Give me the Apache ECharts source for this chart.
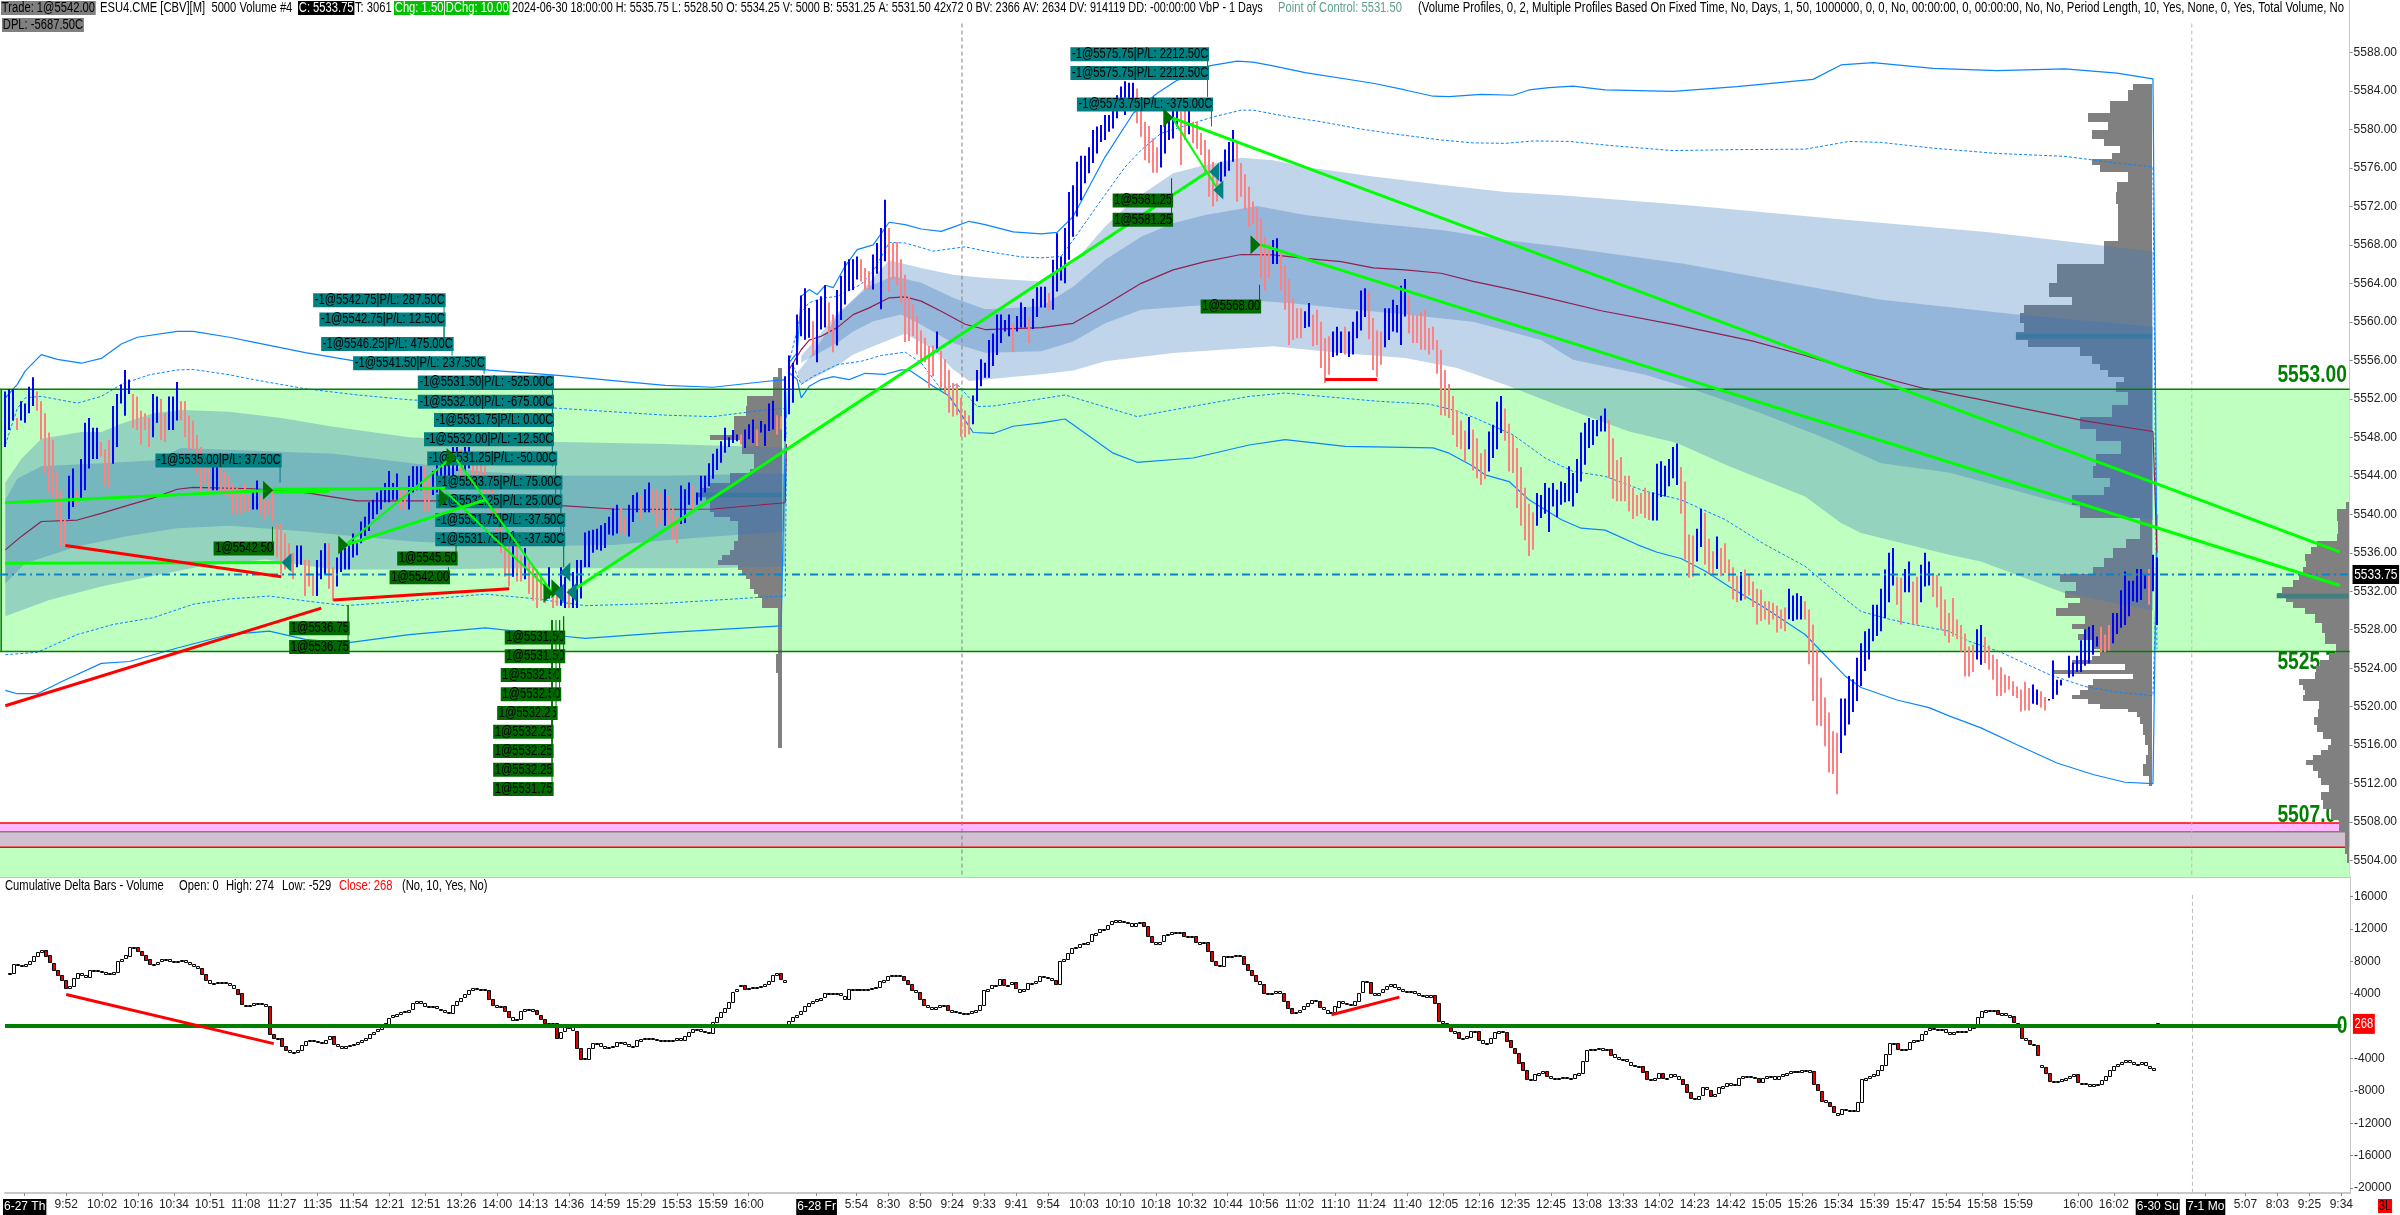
<!DOCTYPE html>
<html><head><meta charset="utf-8"><style>html,body{margin:0;padding:0;background:#fff}#c{width:2400px;height:1215px}</style>
<script src="https://cdn.jsdelivr.net/npm/echarts@6/dist/echarts.min.js"></script></head><body><div id="c"></div>
<script>
const barDir="BBBPBBBBPP"+"PPPPPPBBPB"+"BBBBPPPBBB"+"BBPPPPPBBP"+"PBBBPPPPPP"+"PPBBPPPPPP"+"PPBBPPPPPP"+"PPPBBPPPBB"+"BPPBBBBBBB"+"BBBBBBBBBP"+"PBBBBPPBBB"+"BBBBPBBPPP"+"PPPPPPPBPP"+"BPPPPPBPPB"+"BPBBBBBBBB"+"BBBBPPBBBP"+"BBPPPBPPPB"+"BBPBBBBBBB"+"BBBBPBBBPB"+"BBBPPBBBBB"+"BBPBBBPPBB"+"BBBBPPPBBB"+"BPPPPPPPPP"+"PPPBPPPPPP"+"PPBBBBBBBB"+"BBPBBBPBBB"+"BPBBBBBBBB"+"BBBBBBBBBB"+"BBBPPPPPPB"+"BBBBPPBPPP"+"PPPPBBBBPP"+"PPPPPPPBBP"+"PPPPPBBPPP"+"PPBBBPBBBB"+"BPPPPBBBBB"+"BPPPPPPPPP"+"PPPPPPBPPP"+"PBBBBPPPPP"+"PPPBBBBBBB"+"BBBBBBBBBB"+"BPPPPPPPPP"+"PPBBBBBBBP"+"PPPBBPPPBP"+"PPPPBPPPPP"+"PPPPPPBBBB"+"PPPPPPPPPB"+"BBBBBBBBBB"+"BBBPPBBPPB"+"BBPPPPPPPP"+"PPPBBPPPPP"+"PPPPPPPBBP"+"PBBBBBBBBB"+"BBBBPPPBBB"+"BBBBBBPBB";
const barHigh=[
5552.75,5553,5553,5550,5551.75,5551.5,5553.25,5554.25,5552.75,5551.75,
5550.5,5548.5,5547.75,5544.5,5542.5,5539.5,5544,5544.75,5542.5,5545.75,
5549.5,5550,5549,5549,5547.5,5546.75,5547.75,5551.25,5552.5,5553.5,
5555,5554,5552.5,5552.25,5550.75,5550.5,5550,5552.5,5552.25,5552,
5550.5,5552.25,5552.25,5553.75,5551.75,5551.75,5550.25,5549.75,5548.25,5547,
5545.5,5544.75,5545.5,5545.5,5544.75,5544.5,5544,5543.25,5542.75,5542.25,
5543.25,5542,5542.5,5543.5,5542,5541.5,5541.5,5542.25,5539,5539,
5538,5537,5536,5536.75,5536.75,5535.25,5535.25,5533.75,5535.25,5536.25,
5537,5537,5534.5,5535.5,5536.5,5536.5,5536.75,5538,5537,5539.25,
5539.75,5541.25,5541.5,5542.25,5542.5,5543.25,5544.5,5543.25,5544.25,5542.5,
5542.75,5544,5545,5545,5545,5545,5544,5544.5,5545.25,5546,
5546.25,5546.5,5547,5547,5546.75,5547,5547,5546.5,5546.25,5546,
5545,5544,5543,5541,5539.5,5537.5,5536.75,5538.25,5536.75,5535.75,
5536.5,5535,5534.5,5534.25,5533.75,5533,5534.5,5533,5532.5,5534.5,
5533.5,5532.25,5534,5535.25,5535.25,5538.1,5538.3,5538.4,5538.5,5538.85,
5539.1,5539.75,5540.6,5541,5540.75,5539.75,5541,5542,5542.25,5542,
5542.6,5543.3,5542.6,5542.6,5542.1,5542.6,5541.9,5540.75,5539.75,5543,
5542.6,5543.3,5543,5542.25,5544,5544,5545.3,5546.3,5546.8,5547.6,
5549,5548,5548.75,5548.3,5548.3,5548.8,5549.35,5549.85,5548.8,5549.7,
5549.35,5551.5,5551.8,5550.3,5550.2,5554.35,5556.5,5555.75,5560.75,5562.75,
5563.5,5561.45,5560.05,5562.3,5562.65,5563.8,5562,5560.75,5563.3,5564.8,
5566.3,5566.5,5566.5,5566.8,5566.5,5565.6,5565.25,5567,5568.2,5569.75,
5572.7,5569.75,5568.2,5568.3,5566.5,5564.9,5562.65,5561.8,5560.6,5559.1,
5558.35,5557.5,5557.55,5559,5557,5556.1,5555,5553.65,5553.6,5552.1,
5550.8,5550.3,5552.35,5555,5556.1,5555.75,5558.1,5558.8,5560.75,5560.75,
5560.2,5560.75,5559.8,5560.6,5562,5561.55,5560.5,5562.4,5563.6,5563.65,
5563.65,5563,5566.45,5569.2,5566.8,5569.75,5573.5,5574.2,5576.65,5577.25,
5577.25,5578.15,5579.95,5580.3,5580.45,5581.5,5581.5,5582.9,5583.55,5584.45,
5585,5584.85,5584.85,5584.25,5582.7,5580.8,5580.35,5579.05,5578.15,5580.45,
5581.65,5581.15,5582,5582.7,5581.85,5582,5582.35,5580.8,5580.8,5579.65,
5578.9,5577.9,5576.65,5574.9,5576.65,5577.9,5578.7,5579.95,5578.55,5576.5,
5575.35,5574.05,5572.5,5571.8,5570.75,5568.85,5568.15,5568.5,5568.7,5567.3,
5565.9,5564.45,5562.45,5561.4,5561.4,5561.1,5561.95,5560.75,5561.25,5560,
5558.3,5558.5,5559,5559.5,5559,5559.5,5559,5560,5561.1,5563.25,
5563.5,5563.15,5560.4,5559.1,5559,5561.4,5561.4,5562.3,5561.75,5563.75,
5564.45,5562.7,5560.75,5560.65,5561.1,5561.25,5559.35,5559.5,5558.1,5557.1,
5555,5553.55,5552.3,5550.85,5549.75,5548.7,5550.1,5548.8,5547.9,5546.35,
5546.75,5548.6,5549.3,5551.7,5552.3,5551,5549.4,5548.25,5546.9,5544.9,
5542.75,5541.1,5540.2,5542.2,5542,5543.25,5542.75,5543.25,5542.55,5543.4,
5543.25,5545,5544.3,5545.75,5548.5,5549.5,5550,5549.8,5549.8,5550.25,
5551,5549.8,5547.9,5545.65,5545.95,5544,5544,5542.75,5542,5542.2,
5542.75,5542.2,5542.25,5545.25,5545.5,5545.05,5545.75,5547,5547.35,5544.9,
5543.4,5537.9,5537.8,5538.5,5540.55,5540.15,5537.45,5536.15,5537.7,5536.5,
5537,5535.3,5534.5,5533.6,5534,5534.25,5533.8,5533,5532.25,5532.15,
5530.95,5530.95,5530.8,5530.5,5530.1,5530.3,5532.25,5531.55,5531.8,5531.5,
5530.95,5530.1,5528.55,5525.95,5523,5520.95,5519.4,5517.45,5517.3,5520.85,
5520.85,5523.2,5522.85,5525.1,5526.6,5527.85,5528.1,5530.6,5530.6,5532.25,
5534.25,5536,5536.5,5533.5,5533.4,5534.3,5535.1,5533,5533.5,5534.75,
5536,5535.1,5533.9,5533.7,5532.5,5531.15,5529.75,5531.3,5529.05,5528.5,
5527.6,5526.25,5526.45,5528.05,5528.5,5527.25,5526.35,5525.4,5524.95,5524.1,
5523.35,5523.2,5522.65,5522.1,5521.8,5522.6,5521.95,5522.3,5521.8,5521.6,
5521,5520.8,5524.8,5522.8,5522.8,5522.8,5525.3,5524.6,5525.3,5526.9,
5528.05,5528.3,5528.5,5527.3,5528.3,5527.5,5528.5,5529.75,5529.75,5532.1,
5534.05,5533.1,5533.1,5534.3,5534.3,5533.8,5534.3,5535.8,5535.5];
const barLow=[
5547,5548.75,5549.75,5548.75,5549.75,5549.5,5550.5,5551.25,5550.75,5547.75,
5544.25,5542.25,5541.75,5539.5,5536.5,5536.75,5539.5,5540.75,5541,5541.5,
5542.5,5544.75,5545.75,5545.75,5546,5543,5542.75,5545.25,5547,5551.5,
5550.25,5552.5,5549,5548.75,5547.25,5548.75,5547,5548,5549.5,5547.75,
5547.5,5548.75,5548.75,5549.75,5549.75,5548,5546.75,5546.75,5544.25,5542,
5543.25,5542,5542.5,5542.5,5542.25,5542,5541.75,5540,5540,5540,
5540.25,5540.25,5540.5,5540.5,5540,5539.5,5540,5539.25,5535.5,5533.75,
5534.25,5534.25,5533.25,5534.5,5534.75,5531.5,5532.5,5531.5,5531.5,5533.25,
5533.75,5532.25,5531,5532.5,5534,5534.25,5534.25,5535.5,5535.75,5537,
5537.75,5538.25,5539.5,5540,5540.5,5541.25,5541.25,5541.5,5541.5,5540.5,
5540.5,5540.5,5542.25,5542.5,5542.5,5540.25,5540.25,5542,5542.25,5543,
5543.5,5543.75,5544,5544.5,5544,5544.5,5544.75,5544,5543,5542.5,
5541.5,5540.5,5539.5,5538,5536,5533.5,5532.5,5533.5,5533,5533,
5533.25,5531.75,5531,5530.25,5531,5530.75,5531.25,5530.25,5530.5,5530.5,
5530.25,5530.25,5530.25,5530.25,5531.25,5534.5,5534.5,5536,5536.3,5536.2,
5536.5,5537.9,5537.8,5538,5538,5537.9,5537.7,5539.2,5540.2,5539.5,
5540.2,5540.2,5540,5538.6,5539,5538.8,5538.6,5537.4,5537,5539,
5539.1,5541,5540.5,5541,5541.4,5542.25,5542.9,5543.7,5544.6,5545.35,
5546.4,5547,5547.4,5547.6,5547.25,5546.9,5547.8,5547.4,5547.1,5548.5,
5547.1,5548.65,5548.8,5548.3,5548.8,5547.6,5550.4,5551.6,5555.55,5558.5,
5558.15,5558.35,5556.5,5555.8,5559.2,5559.4,5558.85,5556.85,5557.55,5560.2,
5561.8,5563.2,5563.3,5564.4,5564.2,5563.3,5563.3,5563.35,5565,5561.3,
5566.3,5563.1,5564.4,5563.8,5562,5557.9,5558,5558.5,5556.6,5555.9,
5555.8,5553.15,5554.35,5556.85,5553.15,5552.6,5550.55,5550.15,5550.3,5548.05,
5548,5548.3,5549.35,5551.75,5553.3,5554.2,5554.2,5555.4,5556.55,5557.8,
5559,5558.5,5556.85,5559,5559.4,5559.4,5557.8,5559.25,5560.5,5561.5,
5561.5,5561.2,5561.25,5563.15,5564.3,5564,5566.45,5568.85,5570.95,5572.65,
5574.4,5575.45,5576.5,5577.5,5578.7,5578.9,5579.75,5580.1,5581.15,5582.5,
5581.5,5582.5,5583,5580.65,5579.25,5576.8,5576.5,5575.5,5575.5,5576.05,
5577.5,5578.9,5579.05,5580.3,5576.3,5578.9,5579.5,5578.55,5578,5577.35,
5575.25,5573,5572,5572.5,5574.55,5575.1,5575.7,5576.65,5572.5,5573,
5571.65,5569.85,5570.25,5568.5,5564.5,5563.25,5564.5,5566,5566,5563.25,
5561.25,5557.6,5558.1,5558.3,5558.3,5559.35,5559.5,5557.45,5557.6,5555.2,
5553.65,5554.5,5556.35,5556.5,5556.75,5556.6,5556.35,5556.6,5558.3,5559.1,
5560.5,5558.2,5555,5554.3,5555.55,5557.35,5558.1,5559,5558.9,5557.6,
5560.55,5558.8,5557.8,5557.8,5557.1,5557.1,5556.6,5557.1,5554.6,5550.3,
5550.25,5550,5548.25,5547,5546.75,5545.5,5546.75,5544.55,5543.75,5543.05,
5543.65,5544.45,5545.85,5546.75,5548.45,5547.65,5544.45,5544.3,5540.65,5538.8,
5537.3,5535.65,5536.3,5538.8,5539.6,5540.05,5538.15,5540.8,5539.7,5541,
5541.25,5541.35,5540.8,5542.2,5543.4,5545.15,5546.9,5547.2,5548.1,5548.6,
5548.6,5543.75,5541.6,5541.35,5541.35,5541.35,5540.3,5539.5,5539.8,5540.05,
5539.6,5539.4,5539.35,5539.35,5541.8,5541.85,5542.9,5543.75,5543.05,5540.05,
5535.3,5533.4,5533.5,5535.1,5536.6,5534.75,5533.9,5533.55,5534.3,5533.55,
5533.9,5533,5531.15,5530.85,5531.05,5531.15,5531.55,5530.35,5528.55,5528.9,
5529.05,5528.55,5529.05,5527.7,5528.1,5527.85,5529.1,5528.9,5529.05,5529.05,
5529.05,5524.4,5520.6,5518.05,5518,5515.9,5513.15,5513,5510.9,5515.2,
5517,5518.15,5519.45,5520.6,5522.15,5523.7,5524.9,5526.8,5527.35,5527.85,
5529.2,5530.85,5532.6,5530.6,5528.55,5531.9,5531.9,5528.55,5528.55,5530.85,
5532.5,5532.6,5531.4,5530.3,5528,5527.35,5526.65,5527.3,5527,5525.75,
5523.15,5523.15,5523.6,5524.9,5524.35,5524.55,5523.85,5522.8,5521.1,5521.1,
5521.45,5521.8,5521.1,5520.9,5519.5,5519.6,5519.6,5520.3,5520.2,5519.9,
5519.6,5520.65,5520.8,5521.25,5522.2,5522.8,5523,5523.15,5523.6,5523.6,
5524.25,5524.5,5525.4,5526.25,5525.65,5525.65,5525.85,5526.6,5527.55,5528.2,
5528.5,5529.4,5530.95,5530.85,5531.1,5532.25,5530.6,5532,5528.5];
const deltaClose=[
6400,7500,7400,7300,7500,7900,8500,9000,9300,8600,7700,6800,6200,5600,4600,4800,5800,6400,6200,5900,
6800,6800,6700,6600,6400,6400,6600,7900,8200,8600,9700,9700,9200,8700,8100,7500,7500,7800,8100,8100,
7900,7800,7900,8000,7800,7500,7300,7000,6300,5600,5200,5200,5300,5300,5200,4900,4500,3900,2500,2500,
2500,2700,2700,2600,2300,-1100,-1600,-1600,-2600,-3100,-3300,-3300,-3100,-2500,-2000,-1900,-2000,-2100,-2200,-1800,
-1400,-2400,-2600,-2800,-2600,-2500,-2400,-2100,-1900,-1600,-1100,-800,-500,-100,200,900,1200,1400,1600,1700,
1900,2700,3000,2700,2300,2300,2300,2000,1900,1600,1500,2500,3000,3400,3800,4300,4600,4500,4400,4300,
3200,2500,2300,2300,1700,1000,600,700,1700,2000,2000,1800,1300,800,300,300,200,-1600,-800,-300,
-300,-700,-2800,-4100,-4100,-2800,-2200,-2200,-2600,-2800,-2700,-2600,-2100,-2100,-2400,-2700,-2600,-1900,-1700,-1600,
-1600,-1700,-1800,-1800,-1900,-1900,-1800,-1600,-1900,-1400,-900,-500,-500,-700,-800,-900,400,1000,1600,2100,
2900,4100,4400,5000,4500,4600,4700,4700,4800,5100,5500,6200,6400,5600,5300,500,1000,1300,1700,2300,
2700,3000,3200,3400,3900,4000,4000,3900,3600,3200,4400,4400,4500,4500,4500,4500,4600,4700,5400,5600,
6100,6200,6200,6100,5600,5100,4300,4100,3200,2500,2200,2000,2200,2500,2500,1900,1700,1600,1500,1500,
1400,1700,1900,2500,4300,4500,4900,4900,5700,4900,5000,5300,4500,4100,4400,5200,5200,5400,6000,5900,
5800,5600,5100,7900,8100,8900,9500,9600,10000,10100,10300,11200,11400,11800,11900,12400,12800,13000,12800,12700,
12600,12200,12600,12700,12200,11000,10300,10100,10300,11100,11200,11500,11400,11500,11000,10900,11000,10300,10100,10200,
9100,7900,7400,7300,8500,8400,8500,8600,8500,7500,6800,6200,5500,5100,4000,3900,4000,4200,4000,3000,
2100,1500,1600,1900,2300,2700,3100,3000,2200,1900,1500,1600,2300,3000,2700,2600,2500,3000,4000,5400,
5300,4000,3700,4000,4400,4800,5100,4700,4500,4200,4100,4200,3900,3600,3700,3400,3700,2700,500,300,
-100,-700,-900,-1600,-1600,-1400,-700,-700,-1800,-2200,-2200,-1600,-900,-700,-800,-1900,-2800,-3400,-4600,-5600,
-6700,-6800,-6100,-5900,-5700,-6300,-6500,-6600,-6500,-6400,-6500,-6600,-6100,-5900,-4400,-3100,-3000,-2900,-2800,-3000,
-2900,-3600,-4000,-4200,-4200,-4500,-4900,-5000,-5000,-5700,-6700,-6700,-6500,-5900,-6500,-6500,-6100,-6300,-6700,-7300,
-8300,-9000,-9100,-8700,-7700,-8000,-8700,-8500,-7700,-7500,-7100,-7300,-7400,-6500,-6300,-6300,-6400,-6500,-7000,-6500,
-6300,-6300,-6700,-6300,-6100,-5900,-5700,-5700,-5700,-5500,-5500,-5700,-7300,-8100,-9300,-9500,-10000,-10800,-11000,-10400,
-10500,-10500,-10600,-9500,-6700,-6500,-6300,-6100,-5500,-4900,-3600,-2200,-2200,-3000,-3100,-3000,-2100,-1900,-1800,-1100,
-700,-400,-500,-500,-500,-900,-1100,-800,-700,-700,-700,-300,-100,1000,1700,1900,1900,1800,1300,1500,
1300,1100,300,100,-1600,-1900,-2400,-2500,-3700,-5200,-5900,-6900,-6900,-6900,-6700,-6500,-6300,-6100,-7100,-7200,
-7300,-7500,-7300,-7300,-6800,-6300,-5500,-5000,-4800,-4600,-4300,-4600,-4900,-4800,-4600,-5000,-5300,-5500,268];
// bars whose open does not follow the previous close: [bar, open]
const deltaGapOpens=[[183,4900],[195,100],[509,-4900],[538,-200]];

// VWAP and deviation lines: [bar index] and [price]
const outerUpIdx1=[0,4,9,19,24,29,37,44,56,69,82,101,120,139,165,190,195];
const outerUp1=[5543.3,5545.75,5547.85,5548.55,5548.55,5549.4,5550.5,5550.85,5550.65,5550,5549.1,5548,5547.6,5547.5,5547.3,5547,5546.9];
const innerUpIdx1=[0,3,9,24,37,44,82,120,139,152,165,190,195];
const innerUp1=[5541.5,5543.7,5545,5545.3,5545.6,5546.9,5546.3,5544.4,5544,5544,5544,5544.2,5544.2];
const innerLowIdx1=[0,5,18,30,43,56,75,88,101,126,152,165,177,195];
const innerLow1=[5532.8,5534.9,5536.65,5537.7,5538.55,5538.8,5538.2,5537.7,5537.2,5536.65,5536.8,5537.3,5537.7,5538.2];
const outerLowIdx1=[0,11,24,36,49,65,82,107,124,177,195];
const outerLow1=[5529.4,5531.1,5532.5,5533.5,5534.6,5535.3,5534.25,5534.25,5534.4,5534.4,5534.6];
const vwapIdx1=[0,4,9,18,24,30,37,43,47,62,75,88,101,126,139,152,165,177,195,195.3];
const vwap1=[5536.3,5537.7,5539.25,5539.4,5540.1,5540.85,5541.7,5542.6,5542.8,5542.65,5542.25,5541.4,5541.4,5541.4,5540.9,5540.55,5540.5,5540.55,5541.2,5547.3];
const solidUpIdx1=[0,3,5,9,13,19,24,29,33,43,47,56,62,75,88,120,139,152,165,177,190,195,195.3];
const solidUp1=[5552.1,5553.5,5554.9,5556.6,5556.1,5555.7,5556.2,5557.7,5558.4,5559,5559,5558.4,5557.9,5556.8,5555.9,5555,5554.4,5553.9,5553.4,5553.2,5553.8,5554,5550];
const dotUpIdx1=[0,3,5,9,18,24,29,36,43,47,56,62,75,88,101,139,152,165,177,190,195,195.3];
const dotUp1=[5547.2,5551,5552.1,5552.25,5551.55,5552.25,5553.5,5554.5,5555,5555.05,5554.5,5554,5553.05,5552.4,5551.9,5551,5550.65,5550.3,5550.15,5550.85,5551,5548];
const dotLowIdx1=[0,8,18,27,37,47,56,66,75,85,101,120,133,145,165,190,195,195.3];
const dotLow1=[5525.4,5525.65,5527.5,5528.55,5529.25,5530.65,5531.2,5531.5,5531,5530.5,5531,5531.7,5531.2,5530.5,5530.75,5531.4,5531.5,5546];
const solidLowIdx1=[0,3,8,14,24,31,43,56,66,75,85,101,120,139,145,165,194,195];
const solidLow1=[5521.7,5521.35,5521.35,5522.6,5524.5,5524.7,5526.1,5527.5,5527.85,5527,5526.6,5527.5,5528.2,5527.35,5527.1,5527.7,5528.4,5548];

const outerUpIdx2=[198,202,208,212,216,221,229,237,245,259,267,275,282,292,299,309,317,325,342,359,375,389,420,458,496,537];
const outerUp2=[5554.7,5556.8,5560.6,5562.3,5564.05,5566.4,5565.6,5564.9,5564.55,5564.2,5566.1,5569.9,5572.65,5575.45,5576.2,5577.05,5576.8,5576.1,5575.1,5574.25,5573.5,5573.15,5572.15,5570.7,5569.3,5567.3];
const innerUpIdx2=[199,204,208,212,216,222,229,237,245,259,267,275,284,292,300,313,325,342,359,375,389,420,469,503,537];
const innerUp2=[5556.45,5558.85,5560.9,5562.3,5563.7,5564.75,5564.05,5562.5,5561.3,5561.6,5563.65,5566.45,5568.85,5570.25,5571.1,5572.05,5571.1,5570.25,5569.55,5568.5,5567.8,5566,5562.3,5560.75,5559.5];
const innerLowIdx2=[199,208,212,217,224,229,237,245,259,267,275,284,300,309,321,334,350,367,384,392,410,422,439,456,469,486,511,528,537];
const innerLow2=[5555.75,5557.8,5559,5560.05,5560.75,5559.7,5557.8,5556.8,5556.95,5557.95,5559.85,5561.25,5561.75,5562.3,5561.95,5561.4,5560.75,5560,5558.1,5556.05,5554.5,5553,5550.5,5547.75,5545.3,5544.35,5541.5,5539.8,5539.4];
const outerLowIdx2=[199,208,212,217,225,232,237,241,259,267,275,292,317,334,350,363,375,389,406,418,431,450,459,464,486,494,503,515,537];
const outerLow2=[5553.5,5555.4,5556.6,5557.45,5558.8,5557.15,5555.05,5553.85,5554.55,5554.95,5555.9,5556.75,5557.45,5556.75,5556.25,5555.2,5553.45,5551.2,5548.6,5547.4,5545,5541.85,5539.1,5538.05,5535.8,5535.1,5533.7,5531.8,5530];
const vwapIdx2=[196,199,201,204,208,212,216,221,225,229,234,240,245,259,267,275,284,292,300,309,317,325,334,342,350,359,367,375,384,399,418,437,450,462,480,493,505,520,537,538];
const vwap2=[5555.05,5557.1,5558.1,5558.5,5559.4,5560.75,5561.45,5562.5,5562.6,5562.15,5561.1,5559.75,5559.2,5559.4,5559.85,5561.75,5564,5565.4,5566.25,5567,5566.95,5566.6,5566.25,5565.6,5565.4,5565.05,5564.2,5563.5,5562.65,5561.15,5559.65,5558,5556.5,5555,5553.05,5552,5550.95,5549.7,5548.6,5536];
const solidUpIdx2=[196,198,199,201,203,205,207,210,213,217,221,225,229,234,237,241,245,252,259,263,267,275,282,288,293,301,308,312,317,325,342,350,357,361,369,377,381,386,392,400,417,433,452,459,467,482,498,515,528,537,538];
const solidUp2=[5555.75,5556.8,5562.65,5563.35,5562.85,5563.8,5563.55,5565.8,5567.5,5568,5570.35,5570.1,5569.65,5569.4,5569.85,5570.45,5570.1,5569.35,5569.15,5569.3,5570.95,5577.15,5581.65,5583.75,5585.1,5586.6,5587.1,5587,5586.6,5585.9,5584.8,5584.1,5583.45,5583.4,5583.65,5583.55,5584.1,5584.35,5584.5,5584.1,5583.95,5584.45,5585.2,5586.7,5586.95,5586.35,5586.1,5586.3,5585.85,5585.25,5534];
const dotUpIdx2=[196,199,201,205,208,214,217,221,225,232,240,245,254,259,264,267,274,280,284,289,302,309,312,321,329,338,346,359,367,375,382,391,402,417,433,450,461,469,482,498,515,528,537,538];
const dotUp2=[5555.75,5560.95,5562,5562.5,5562.65,5563.9,5565.25,5568.25,5568.2,5567.35,5567.8,5567.35,5566.75,5566.65,5566.8,5568.5,5572.65,5576.1,5577.85,5579.6,5581.3,5582,5582,5581.3,5580.8,5580.1,5579.6,5578.9,5578.6,5578.55,5578.8,5578.75,5578.3,5577.8,5577.9,5577.95,5578.75,5578.65,5578.05,5577.5,5577.2,5576.5,5576.1,5526];
const dotLowIdx2=[197,199,202,208,214,219,225,229,234,238,243,247,259,265,283,294,311,320,343,356,362,367,377,385,392,400,410,419,430,440,450,456,464,471,477,486,491,499,511,520,528,537,538];
const dotLow2=[5555.4,5553.5,5554.35,5555.55,5555.9,5556.5,5556.85,5555.75,5553,5553.5,5551.2,5551.25,5552,5552.4,5550.15,5551,5552.25,5552.6,5551.75,5551.45,5550.85,5550.1,5548.25,5545.85,5544.45,5543.95,5542.4,5541.5,5539.45,5536.85,5534.6,5532.5,5529.9,5529.1,5528.55,5527.85,5526.8,5525.65,5523.35,5522.1,5521.5,5521.15,5535];
const solidLowIdx2=[196,198,199,201,204,207,211,215,220,224,226,232,236,242,247,252,259,265,277,283,297,311,320,335,357,361,367,370,376,381,389,394,400,408,413,419,425,431,440,450,460,464,473,481,486,494,503,513,522,530,537,538];
const solidLow2=[5554.7,5554,5552.1,5553.3,5554,5554.3,5554,5554.65,5554.55,5555,5555,5553.3,5552.3,5548.5,5548.4,5549.15,5549.5,5549.9,5546.35,5545.4,5545.85,5547.2,5547.75,5547.05,5546.9,5546.35,5545,5544.1,5543.4,5541.5,5539.45,5538.55,5538.35,5536.85,5536.05,5535.4,5534.1,5532.5,5530.25,5527.5,5523.2,5522,5520.7,5519.9,5519.05,5517.8,5516.05,5514.15,5512.95,5512.15,5512,5540];

// volume-at-price profiles [price, volume]
const profile1=[[5555,1],[5554.5,1],[5554,2.3],[5553.5,2.3],[5553,2.3],[5552.5,2.3],[5552,8.7],[5551.5,8.7],[5551,9],[5550.5,9],[5550,12],[5549.5,12],[5549,12],[5548.5,12],[5548,18],[5547.5,10],[5547,10],[5546.5,10],[5546,7],[5545.5,7],[5545,7],[5544.5,8],[5544,13],[5543.5,13],[5543,18],[5542.5,20],[5542,21],[5541.5,19],[5541,18],[5540.5,18],[5540,17],[5539.5,13],[5539,11],[5538.5,11],[5538,11],[5537.5,11],[5537,12],[5536.5,12],[5536,13],[5535.5,15],[5535,16],[5534.5,11],[5534,10],[5533.5,9],[5533,8],[5532.5,8],[5532,7],[5531.5,6],[5531,5],[5530.5,5],[5530,1],[5528,1],[5526,1],[5525,1.6],[5524,1.6],[5523,1],[5520,1],[5516,1]];
const profile2=[[5584.5,4.8],[5583.6,6],[5582.3,10.5],[5581.1,16],[5580.4,11],[5579.4,15],[5578.6,12],[5578,8],[5577.2,10],[5576.6,15],[5576.1,13],[5575,6],[5574,8.6],[5573,9],[5571.5,8.4],[5569.6,8.4],[5567.2,12],[5564.8,23.7],[5563.25,25.6],[5562,20],[5561.4,32],[5560.5,33],[5559.3,32],[5558.5,34],[5557.8,31],[5556.9,18],[5556,15],[5555.3,13],[5554.6,11],[5554,7],[5553.4,9],[5552.1,6],[5550.7,10],[5549.5,18],[5548.3,14],[5546.9,7.6],[5545.6,14],[5544.4,14.7],[5543.2,10.5],[5542.5,12],[5541.6,20],[5540.3,18],[5539,3],[5538,3],[5536.9,6.4],[5536,9.6],[5535,12],[5534.1,14.7],[5533.5,23],[5532.5,19],[5531.5,21.7],[5531,18],[5530.6,21],[5530,24],[5528.8,16.6],[5528.3,20],[5527.8,16.6],[5527.3,18.5],[5526.5,14.6],[5525.5,13],[5525,15],[5524.8,20],[5524.1,6.8],[5523.6,25],[5523.1,4.6],[5522.6,14.6],[5522,16],[5521.5,18],[5521,20],[5520.6,16],[5520,13],[5519.6,6],[5519.2,3.75],[5518.7,3],[5517.6,2.3],[5516.5,1.7],[5515.5,1],[5514.5,1.5],[5513.5,2.3],[5512,.8]];
const profile3=[[5541,.75],[5540,3],[5538.5,2.7],[5537.5,3],[5537,8],[5536.2,9.5],[5535.5,11],[5534.8,10.6],[5534.2,11.4],[5533.5,12.4],[5532.8,14],[5532.1,16.6],[5531.5,18],[5531.1,15.6],[5530.6,14],[5530,11],[5529.2,8.5],[5528.3,6.6],[5527,6],[5526,3.2],[5525.2,5],[5524.5,7.2],[5524,8.25],[5523.2,8.5],[5522.6,12.4],[5522,11.4],[5521.5,11],[5520.9,11.4],[5520.2,7.4],[5519.4,7.7],[5518.5,8.7],[5517.7,8],[5517,6.4],[5516.2,4.3],[5515.8,5.2],[5515.2,6.8],[5514.7,8.9],[5514.2,10.75],[5513.7,8.9],[5513,7.7],[5512.2,6.8],[5511.5,5],[5510.7,6.8],[5510,6.4],[5508.8,4.5],[5507.6,2.5],[5506.5,1],[5505.3,.9],[5504,.5]];
const pocRows=[[5542,21],[5558.5,34],[5531.5,18]];

// zones [low, high, fill]
const zones=[[5525.75,5553,'#BFFFBF'],[5502.3,5505.4,'#BFFFBF'],[5507,5507.9,'#FFB8FF'],[5505.4,5507,'#D0C0D0']];
const zoneTexts=[['5553.00',5554.4],['5525.75',5524.6],['5507.00',5508.7]];
const hLines=[[5507.9,'#FF0000'],[5505.4,'#FF0000'],[5507,'#808080']];
const lastPrice=5533.75;

// trade connectors [i1,p1,i2,p2,width]
const greenLines=[[0,5541.2,67,5542.5,3],[67,5542.6,110,5542.7,3],[67,5542.3,81,5542.4,3],[0,5534.9,69,5535,3],[85,5536.8,111.6,5545.9,2],[85,5536.8,120,5541.5,3],[112.8,5545.7,137,5531.7,2],[110,5542.4,137,5531.7,2],[142.5,5532.25,300.7,5575.6,3],[291.8,5581.2,303.3,5573.7,2],[291.8,5581.2,583.7,5536.1,3],[314,5568,583.7,5532.6,3]];
const redLines=[[15,5536.75,69,5533.5,3],[82,5531.1,126,5532.25,3],[0,5520.1,79,5530.25,3],[330,5554,343,5554,3]];
const deltaRedLines=[[14,3900,66,-2170,3],[331,1400,348,3570,3]];
const arrowsRight=[[65.7,5542.5],[84.5,5536.8],[109.7,5541.7],[111.6,5545.9],[135.8,5531.8],[137.8,5532.25],[290.8,5581.2],[312.6,5568]];
const arrowsLeft=[[70.3,5535],[140,5534],[138.4,5531.8],[141.6,5531.9],[302.3,5575.6],[303.3,5573.7]];

// trade labels [text, bar at right edge, price, stem end price]
const tealLabels=[
['-1@5542.75|P/L: 287.50C',110.1,5562.25,5558.4],['-1@5542.75|P/L: 12.50C',110.1,5560.25,5558.4],['-1@5546.25|P/L: 475.00C',112.1,5557.7,5556.5],['-1@5541.50|P/L: 237.50C',120.1,5555.7,5554.6],
['-1@5531.50|P/L: -525.00C',137.2,5553.7,5545],['-1@5532.00|P/L: -675.00C',137.2,5551.7,5545],['-1@5531.75|P/L: 0.00C',137.2,5549.8,5545],['-1@5532.00|P/L: -12.50C',137.2,5547.8,5545],['-1@5531.25|P/L: -50.00C',138,5545.8,5541],
['-1@5533.75|P/L: 75.00C',139.3,5543.3,5538],['-1@5532.25|P/L: 25.00C',139.3,5541.35,5537.5],['-1@5531.75|P/L: -37.50C',140,5539.4,5534.5],['-1@5531.75|P/L: -37.50C',140,5537.4,5534.5],['-1@5535.00|P/L: 37.50C',69.1,5545.6,5543.3],
['-1@5575.75|P/L: 2212.50C',301,5587.8,5583.4],['-1@5575.75|P/L: 2212.50C',301,5585.85,5583.4],['-1@5573.75|P/L: -375.00C',302,5582.6,5580.3]];
const greenLabels=[
['1@5542.50',67.2,5536.45,5538.7],['1@5545.50',113.1,5535.4,5536.8],['1@5542.00',111.2,5533.45,5534.5],['1@5536.75',86.1,5528.15,5530.5],['1@5536.75',86.1,5526.2,5530.5],
['1@5531.50',140,5527.2,5529.4],['1@5531.50',140,5525.25,5529.4],['1@5532.50',139,5523.3,5529],['1@5532.50',139,5521.3,5529],['1@5532.25',138.1,5519.35,5529],['1@5532.25',137.1,5517.4,5529],['1@5532.25',137.1,5515.4,5529],['1@5532.25',137.1,5513.45,5529],['1@5531.75',137.1,5511.45,5529],
['1@5581.25',292,5572.6,5574.9],['1@5581.25',292,5570.6,5574.9],['1@5568.00',314,5561.6,5563.85]];

const priceTicks=[5504,5508,5512,5516,5520,5524,5528,5532,5536,5540,5544,5548,5552,5556,5560,5564,5568,5572,5576,5580,5584,5588];
const deltaTicks=[16000,12000,8000,4000,-4000,-8000,-12000,-16000,-20000];
const timeTickBars=[3.6,14,23,32,41,50,59,68,77,86,95,104,113,122,131,140,149,158,167,176,185,202,212,220,228,236,244,252,260,269,278,287,296,305,314,323,332,341,350,359,368,377,386,395,404,413,422,431,440,449,458,467,476,485,494,503,518,527,538,550,560,568,576,584];
const timeTickLabels=['6-27 Th','9:52','10:02','10:16','10:34','10:51','11:08','11:27','11:35','11:54','12:21','12:51','13:26','14:00','14:13','14:36','14:59','15:29','15:53','15:59','16:00','6-28 Fr','5:54','8:30','8:50','9:24','9:33','9:41','9:54','10:03','10:10','10:18','10:32','10:44','10:56','11:02','11:10','11:24','11:40','12:05','12:16','12:35','12:45','13:08','13:33','14:02','14:23','14:42','15:05','15:26','15:34','15:39','15:47','15:54','15:58','15:59','16:00','16:02','6-30 Su','7-1 Mo','5:07','8:03','9:25','9:34'];

const headerTexts=[
{t:'Trade: 1@5542.00',x:1,y:1,bg:'#808080',c:'#000',s:.8},
{t:'ESU4.CME [CBV][M]  5000 Volume #4',x:100,y:1,c:'#000',s:.8},
{t:'C: 5533.75',x:298,y:1,bg:'#000',c:'#fff',s:.8},
{t:'T: 3061',x:355,y:1,c:'#000',s:.8},
{t:'Chg: 1.50',x:394,y:1,bg:'#00C000',c:'#fff',s:.8},
{t:'DChg: 10.00',x:445,y:1,bg:'#00C000',c:'#fff',s:.8},
{t:'2024-06-30 18:00:00 H: 5535.75 L: 5528.50 O: 5534.25 V: 5000 B: 5531.25 A: 5531.50 42x72 0 BV: 2366 AV: 2634 DV: 914119 DD: -00:00:00 VbP - 1 Days',x:512,y:1,c:'#000',s:.775},
{t:'Point of Control: 5531.50',x:1278,y:1,c:'#5F9F8F',s:.8},
{t:'(Volume Profiles, 0, 2, Multiple Profiles Based On Fixed Time, No, Days, 1, 50, 1000000, 0, 0, No, 00:00:00, 0, 00:00:00, No, No, Period Length, 10, Yes, None, 0, Yes, Total Volume, No',x:1418,y:1,c:'#000',s:.81},
{t:'DPL: -5687.50C',x:2,y:18,bg:'#808080',c:'#000',s:.8},
{t:'Cumulative Delta Bars - Volume',x:5,y:879,c:'#000',s:.8},
{t:'Open: 0',x:179,y:879,c:'#000',s:.8},
{t:'High: 274',x:226,y:879,c:'#000',s:.8},
{t:'Low: -529',x:282,y:879,c:'#000',s:.8},
{t:'Close: 268',x:339,y:879,c:'#FF0000',s:.8},
{t:'(No, 10, Yes, No)',x:402,y:879,c:'#000',s:.8},
{t:'3L',x:2378,y:1199,bg:'#FF0000',c:'#000',s:.8}];

const FONT='"Liberation Sans",sans-serif';
const F14='14px '+FONT;
const TS=0.8;
const BLUE='#0A84FF', XMIN=-1.33, XMAX=586.17;

function polyBand(uIdx,u,lIdx,l){
  return {type:'custom',xAxisIndex:0,yAxisIndex:0,z:4,silent:true,clip:true,data:[[uIdx[0],u[0]]],
    renderItem(p,api){
      const pts=uIdx.map((x,k)=>api.coord([x,u[k]]));
      for(let k=lIdx.length-1;k>=0;k--)pts.push(api.coord([lIdx[k],l[k]]));
      return {type:'polygon',shape:{points:pts},style:{fill:'rgba(53,117,188,0.3125)'}};
    }};
}
function lineSer(idx,vals,color,width,type,z){
  return {type:'line',xAxisIndex:0,yAxisIndex:0,z:z||5,silent:true,showSymbol:false,symbol:'none',animation:false,
    lineStyle:{color,width,type:type||'solid'},data:idx.map((x,k)=>[x,vals[k]])};
}
function profileSer(rows,edge){
  return {type:'custom',xAxisIndex:0,yAxisIndex:0,z:3,silent:true,clip:false,data:rows,
    renderItem(p,api){
      const k=p.dataIndex, pr=rows[k][0], vol=rows[k][1];
      const top=k>0?(rows[k-1][0]+pr)/2:pr+.25, bot=k<rows.length-1?(rows[k+1][0]+pr)/2:pr-.25;
      const a=api.coord([edge-vol,top]), b=api.coord([edge,bot]);
      const y0=Math.round(a[1]), y1=Math.round(b[1]), x0=Math.round(a[0]), x1=Math.round(b[0]);
      return {type:'rect',shape:{x:x0,y:y0,width:x1-x0,height:Math.max(1,y1-y0)},style:{fill:'#808080'}};
    }};
}
function pocSer(row,edge){
  return {type:'custom',xAxisIndex:0,yAxisIndex:0,z:3,silent:true,data:[row],
    renderItem(p,api){
      const a=api.coord([edge-row[1],row[0]+.25]), b=api.coord([edge,row[0]-.25]);
      return {type:'rect',shape:{x:a[0],y:a[1],width:b[0]-a[0],height:b[1]-a[1]},style:{fill:'rgba(0,128,128,0.5)'}};
    }};
}
function segSer(rows,color,xi,yi,z,dash){
  return {type:'custom',xAxisIndex:xi,yAxisIndex:yi,z,silent:true,clip:false,data:rows.map(r=>r.slice(0,5)),
    renderItem(p,api){
      const a=api.coord([api.value(0),api.value(1)]), b=api.coord([api.value(2),api.value(3)]);
      return {type:'line',shape:{x1:a[0],y1:a[1],x2:b[0],y2:b[1]},style:{stroke:color,lineWidth:api.value(4),lineDash:dash||null}};
    }};
}
function labelSer(rows,bg,z){
  return {type:'custom',xAxisIndex:0,yAxisIndex:0,z,silent:true,clip:false,data:rows.map(r=>[r[1],r[2],r[3]]),
    renderItem(p,api){
      const r=rows[p.dataIndex], a=api.coord([r[1],r[2]]), s=api.coord([r[1]-.4,r[3]]);
      return {type:'group',children:[
        {type:'line',shape:{x1:s[0],y1:a[1],x2:s[0],y2:s[1]},style:{stroke:bg,lineWidth:1}},
        {type:'text',x:a[0],y:a[1],scaleX:TS,style:{text:r[0],x:0,y:0,align:'right',verticalAlign:'middle',font:F14,fill:'#000',backgroundColor:bg,padding:[0,1,0,2]}}
      ]};
    }};
}
const series=[];
series.push({type:'custom',xAxisIndex:0,yAxisIndex:0,z:1,silent:true,data:zones.map(z=>[XMIN,z[0],z[1]]),
  renderItem(p,api){
    const z=zones[p.dataIndex], a=api.coord([XMIN,z[1]]), b=api.coord([XMAX,z[0]]);
    return {type:'rect',shape:{x:a[0],y:a[1],width:b[0]-a[0],height:b[1]-a[1]},style:{fill:z[2]}};
  }});
series.push({type:'custom',xAxisIndex:0,yAxisIndex:0,z:2,silent:true,clip:false,data:zoneTexts.map(z=>[XMAX,z[1]]),
  renderItem(p,api){
    const z=zoneTexts[p.dataIndex], a=api.coord([XMAX-.7,z[1]]);
    return {type:'text',x:a[0],y:a[1],scaleX:TS,style:{text:z[0],x:0,y:0,align:'right',verticalAlign:'middle',font:'bold 24px '+FONT,fill:'#007F00'}};
  }});
series.push(segSer([[XMIN,5553,XMAX,5553,1.5],[XMIN,5525.75,XMAX,5525.75,1.5]],'#007F00',0,0,6));
series.push(segSer([[XMIN+.3,5553,XMIN+.3,5525.75,1.5]],'#007F00',0,0,6));
hLines.forEach(h=>series.push(segSer([[XMIN,h[0],XMAX-1,h[0],1.5]],h[1],0,0,2)));
series.push(profileSer(profile1,194.2),profileSer(profile2,536.7),profileSer(profile3,585.9));
series.push(pocSer(pocRows[0],194.2),pocSer(pocRows[1],536.7),pocSer(pocRows[2],585.9));
series.push(polyBand(outerUpIdx1,outerUp1,outerLowIdx1,outerLow1),polyBand(innerUpIdx1,innerUp1,innerLowIdx1,innerLow1));
series.push(polyBand(outerUpIdx2,outerUp2,outerLowIdx2,outerLow2),polyBand(innerUpIdx2,innerUp2,innerLowIdx2,innerLow2));
[[solidUpIdx1,solidUp1,1.2,'solid'],[solidLowIdx1,solidLow1,1.2,'solid'],[dotUpIdx1,dotUp1,1,[3,2]],[dotLowIdx1,dotLow1,1,[3,2]],
 [solidUpIdx2,solidUp2,1.2,'solid'],[solidLowIdx2,solidLow2,1.2,'solid'],[dotUpIdx2,dotUp2,1,[3,2]],[dotLowIdx2,dotLow2,1,[3,2]]]
 .forEach(a=>series.push(lineSer(a[0],a[1],BLUE,a[2],a[3])));
series.push(lineSer(vwapIdx1,vwap1,'#902050',1.2),lineSer(vwapIdx2,vwap2,'#902050',1.2));
series.push(segSer([[239.2,5591,239.2,5502.3,1]],'#808080',0,0,5,[4,3]));
series.push(segSer([[546.7,5591,546.7,5502.3,1]],'#BBBBBB',0,0,5,[4,3]));
series.push(segSer([[546.7,16200,546.7,-20600,1]],'#BBBBBB',1,1,5,[4,3]));
// price bars
series.push({type:'custom',xAxisIndex:0,yAxisIndex:0,z:6,silent:true,clip:false,
  data:barHigh.map((h,k)=>[k,h,barLow[k]]),
  renderItem(p,api){
    const a=api.coord([api.value(0),api.value(1)]), b=api.coord([api.value(0),api.value(2)]);
    return {type:'rect',shape:{x:Math.round(a[0])-1,y:a[1],width:2,height:b[1]-a[1]},style:{fill:barDir[p.dataIndex]==='B'?'#0000FF':'#FF8080'}};
  }});
series.push(lineSer([XMIN,XMAX],[lastPrice,lastPrice],'#0A84C8',2,[8,4,2,4],7));
series.push(labelSer(tealLabels,'#008080',7));
series.push(segSer(greenLines,'#00FF00',0,0,8));
series.push(segSer(redLines,'#FF0000',0,0,8));
series.push({type:'scatter',xAxisIndex:0,yAxisIndex:0,z:9,silent:true,symbol:'triangle',symbolRotate:-90,symbolSize:[19,10],itemStyle:{color:'#007000',opacity:1},data:arrowsRight});
series.push({type:'scatter',xAxisIndex:0,yAxisIndex:0,z:9,silent:true,symbol:'triangle',symbolRotate:90,symbolSize:[19,10],itemStyle:{color:'#008080',opacity:1},data:arrowsLeft});
series.push(labelSer(greenLabels,'#006A00',10));
series.push({type:'custom',xAxisIndex:0,yAxisIndex:0,z:11,silent:true,clip:false,data:[[587,lastPrice]],
  renderItem(p,api){
    const a=api.coord([586.9,lastPrice]);
    return {type:'text',x:a[0],y:a[1],scaleX:TS,style:{text:lastPrice.toFixed(2),x:0,y:0,align:'left',verticalAlign:'middle',font:'15px '+FONT,fill:'#fff',backgroundColor:'#000',padding:[2,2,2,2]}};
  }});
// delta candles
const gapOpen=new Map(deltaGapOpens);
series.push({type:'custom',xAxisIndex:1,yAxisIndex:1,z:6,silent:true,clip:false,
  data:deltaClose.map((c,k)=>[k,gapOpen.has(k)?gapOpen.get(k):(k?deltaClose[k-1]:c),c]),
  renderItem(p,api){
    const k=api.value(0), o=api.value(1), c=api.value(2);
    const a=api.coord([k,Math.max(o,c)]), b=api.coord([k,Math.min(o,c)]);
    return {type:'rect',shape:{x:Math.round(a[0])-1.5,y:Math.round(a[1])-.5,width:3,height:Math.max(1,Math.round(b[1]-a[1]))},
      style:{fill:c<o-450?'#E00000':'#FFFFFF',stroke:'#000',lineWidth:1}};
  }});
series.push(segSer([[XMIN,0,584,0,4]],'#007F00',1,1,7));
series.push(segSer(deltaRedLines,'#FF0000',1,1,8));
series.push({type:'custom',xAxisIndex:1,yAxisIndex:1,z:11,silent:true,clip:false,data:[[584,0],[587,268]],
  renderItem(p,api){
    if(p.dataIndex===0){const a=api.coord([584.2,0]);
      return {type:'text',x:a[0],y:a[1],scaleX:TS,style:{text:'0',x:0,y:0,align:'center',verticalAlign:'middle',font:'bold 24px '+FONT,fill:'#007F00'}};}
    const a=api.coord([586.9,268]);
    return {type:'text',x:a[0],y:a[1],scaleX:TS,style:{text:'268',x:0,y:0,align:'left',verticalAlign:'middle',font:'14px '+FONT,fill:'#fff',backgroundColor:'#FF0000',padding:[3,2,3,2]}};
  }});

const timeFmt=v=>{const k=timeTickBars.indexOf(v);const s=k<0?'':timeTickLabels[k];return /-\d+ /.test(s)?'{d|'+s+'}':s;};
const option={animation:false,backgroundColor:'#fff',
 grid:[{left:0,right:50,top:0,height:877},{left:0,right:50,top:877,height:318}],
 xAxis:[
  {type:'value',gridIndex:0,min:XMIN,max:XMAX,containShape:false,axisLabel:{show:false},axisTick:{show:false},splitLine:{show:false},axisLine:{onZero:false,lineStyle:{color:'#A0E0A0',width:2}}},
  {type:'value',gridIndex:1,min:XMIN,max:XMAX,containShape:false,splitLine:{show:false},axisLine:{onZero:false,lineStyle:{color:'#C8C8C8',width:2}},
   axisTick:{customValues:timeTickBars,length:3,lineStyle:{color:'#888'}},
   axisLabel:{color:'#222',fontFamily:FONT,fontSize:12,customValues:timeTickBars,formatter:timeFmt,margin:6,hideOverlap:false,showMinLabel:true,showMaxLabel:true,
     rich:{d:{backgroundColor:'#000',color:'#fff',fontFamily:FONT,fontSize:12,padding:[2,1,2,1]}}}}],
 yAxis:[
  {type:'value',gridIndex:0,position:'right',min:5502.3,max:5593.45,containShape:false,splitLine:{show:false},axisLine:{show:true,onZero:false,lineStyle:{color:'#C8C8C8'}},
   axisTick:{show:true,customValues:priceTicks,length:3,lineStyle:{color:'#888'}},
   axisLabel:{color:'#222',fontFamily:FONT,fontSize:12,customValues:priceTicks,formatter:v=>v.toFixed(2),margin:4}},
  {type:'value',gridIndex:1,position:'right',min:-20613,max:18405,containShape:false,splitLine:{show:false},axisLine:{show:true,onZero:false,lineStyle:{color:'#C8C8C8'}},
   axisTick:{show:true,customValues:deltaTicks,length:3,lineStyle:{color:'#888'}},
   axisLabel:{color:'#222',fontFamily:FONT,fontSize:12,customValues:deltaTicks,formatter:v=>String(v),margin:4}}],
 graphic:headerTexts.map(h=>({type:'text',silent:true,z:100,x:h.x,y:h.y,scaleX:h.s,style:{text:h.t,font:F14,fill:h.c,backgroundColor:h.bg,padding:h.bg?[0,1,0,1]:0}})),
 series};
const chart=echarts.init(document.getElementById('c'),null,{renderer:'canvas',width:2400,height:1215});
chart.setOption(option);
</script></body></html>
